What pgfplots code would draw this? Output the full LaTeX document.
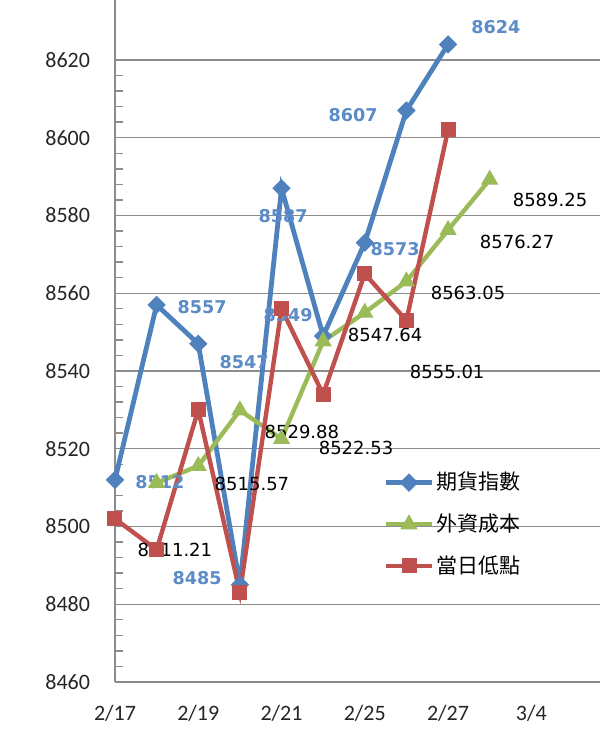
\documentclass[border=0pt]{standalone}
\usepackage{pgfplots}
\pgfplotsset{compat=1.18}
\usepackage{fontspec}
\setmainfont{Carlito}
\newfontfamily\cjk{Noto Sans CJK TC}
\newfontfamily\dv{DejaVu Sans}
\definecolor{sblue}{HTML}{4F81BD}
\definecolor{sgreen}{HTML}{9BBB59}
\definecolor{sred}{HTML}{C0504D}
\definecolor{lblue}{HTML}{5B8CC8}
\definecolor{gridc}{HTML}{8C8C8C}

\begin{document}
\begin{tikzpicture}
\begin{axis}[
  at={(0,0)}, anchor=south west,
  scale only axis, width=242.5bp, height=341bp,
  xmin=0, xmax=11.65, ymin=8460, ymax=8635.43,
  axis lines*=left,
  axis line style={-, draw=gridc, line width=0.8bp},
  ytick={8460,8480,...,8620}, minor y tick num=4,
  ymajorgrids, major grid style={draw=gridc, line width=0.7bp},
  ytick pos=left, tick align=inside,
  major tick length=4bp, minor tick length=4bp,
  every tick/.style={draw=gridc, line width=0.7bp},
  xtick={0,2,4,6,8,10},
  xticklabels={2/17,2/19,2/21,2/25,2/27,3/4},
  xtick style={draw=none},
  tick label style={font=\fontsize{11bp}{13bp}\selectfont, text=black!85},
  /pgf/number format/assume math mode=true,
  yticklabel style={/pgf/number format/1000 sep={}, xshift=-9bp},
  xticklabel style={yshift=-8bp},
  clip=false,
  legend style={at={(rel axis cs:0.553,0.314)}, anchor=north west,
    draw=none, fill=none, inner sep=0pt, row sep=6.5bp,
    nodes={inner xsep=1bp},
    font=\cjk\fontsize{10.5bp}{12bp}\selectfont},
  legend cell align=left,
  legend image code/.code={\draw[mark repeat=2,mark phase=2] plot coordinates {(0bp,0bp)(11.5bp,0bp)(23bp,0bp)};},
]
\addplot[sblue, line width=2.4bp, mark=square*, mark size=3bp,
  mark options={rotate=45, line width=0.5bp}]
  coordinates {(0,8512) (1,8557) (2,8547) (3,8485) (4,8587) (5,8549) (6,8573) (7,8607) (8,8624)};
\addlegendentry{期貨指數}
\addplot[sgreen, line width=2.2bp, mark=triangle*, mark size=4.5bp,
  mark options={line width=0.5bp}]
  coordinates {(1,8511.21) (2,8515.57) (3,8529.88) (4,8522.53) (5,8547.64) (6,8555.01) (7,8563.05) (8,8576.27) (9,8589.25)};
\addlegendentry{外資成本}
\addplot[sred, line width=2.2bp, mark=square*, mark size=3.5bp,
  mark options={line width=0.5bp}]
  coordinates {(0,8502) (1,8494) (2,8530) (3,8483) (4,8556) (5,8534) (6,8565) (7,8553) (8,8602)};
\addlegendentry{當日低點}

% data labels
\begin{scope}[every node/.style={font=\dv\bfseries\fontsize{8.8bp}{10bp}\selectfont, text=lblue, inner sep=0pt}]
\node at (axis cs:1.08,8511.4) {8512};
\node at (axis cs:2.09,8556.5) {8557};
\node at (axis cs:3.10,8542.3) {8547};
\node at (axis cs:1.97,8486.8) {8485};
\node at (axis cs:4.04,8579.9) {8587};
\node at (axis cs:4.16,8554.4) {8549};
\node at (axis cs:6.73,8571.4) {8573};
\node at (axis cs:5.72,8605.9) {8607};
\node at (axis cs:9.15,8628.5) {8624};
\end{scope}
\begin{scope}[every node/.style={font=\dv\fontsize{9bp}{10bp}\selectfont, text=black, inner sep=0pt}]
\node at (axis cs:1.44,8494.0) {8511.21};
\node at (axis cs:3.29,8510.9) {8515.57};
\node at (axis cs:4.49,8524.3) {8529.88};
\node at (axis cs:5.79,8520.2) {8522.53};
\node at (axis cs:6.49,8549.3) {8547.64};
\node at (axis cs:7.98,8539.7) {8555.01};
\node at (axis cs:8.48,8560.1) {8563.05};
\node at (axis cs:9.66,8573.2) {8576.27};
\node at (axis cs:10.45,8584.0) {8589.25};
\end{scope}
\end{axis}
\pgfresetboundingbox
\path (-57.5bp,-30bp) rectangle (242.5bp,341bp);
\end{tikzpicture}
\end{document}
